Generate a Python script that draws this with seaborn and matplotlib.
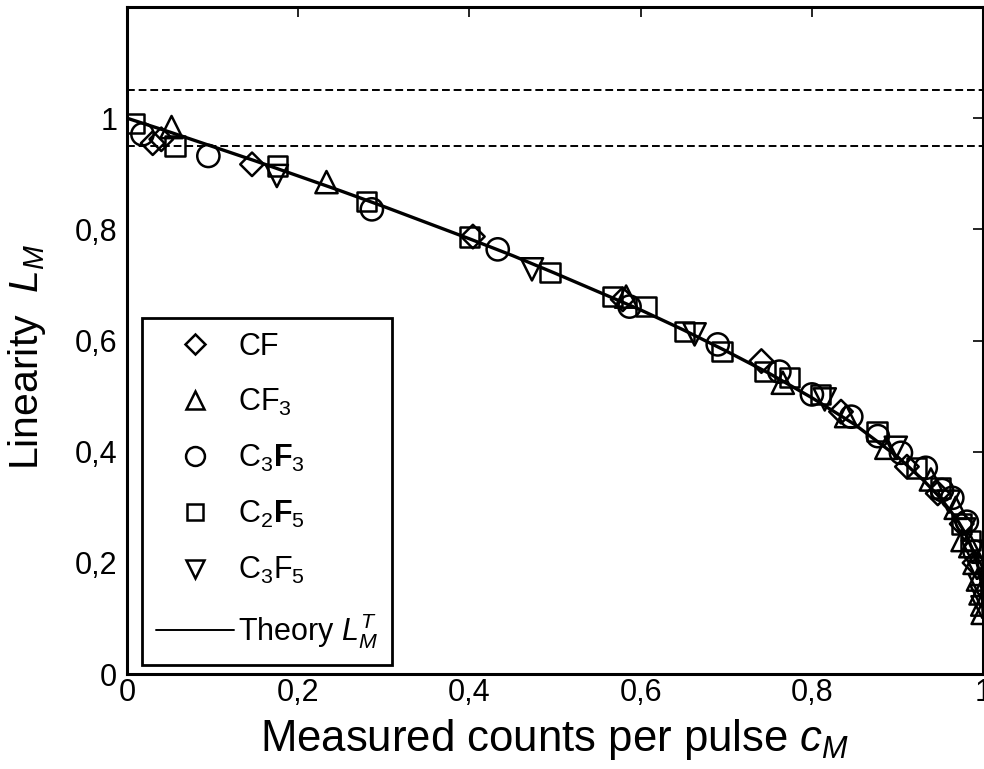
import numpy as np
import pandas as pd
import matplotlib
matplotlib.use("Agg")
import matplotlib.pyplot as plt
from matplotlib.lines import Line2D
import seaborn as sns

# ---------------- data ----------------
cf_c = [0.030, 0.040, 0.146, 0.404, 0.579, 0.741, 0.834, 0.911, 0.947, 0.975, 0.990]
cf_L = [0.955, 0.962, 0.917, 0.787, 0.674, 0.563, 0.472, 0.373, 0.325, 0.270, 0.200]

cf3_c = [0.052, 0.233, 0.583, 0.766, 0.840, 0.887, 0.939, 0.968, 0.976, 0.985, 0.990, 0.994, 0.997, 0.999, 0.9995]
cf3_L = [0.984, 0.885, 0.679, 0.524, 0.464, 0.407, 0.350, 0.299, 0.241, 0.230, 0.200, 0.170, 0.145, 0.125, 0.110]

c3f3_c = [0.018, 0.095, 0.286, 0.433, 0.587, 0.690, 0.762, 0.800, 0.846, 0.877, 0.904, 0.933, 0.952, 0.964, 0.981, 0.990]
c3f3_L = [0.971, 0.932, 0.836, 0.764, 0.661, 0.593, 0.544, 0.503, 0.463, 0.428, 0.398, 0.371, 0.331, 0.317, 0.274, 0.220]

c2f5_c = [0.009, 0.056, 0.176, 0.280, 0.400, 0.494, 0.567, 0.606, 0.651, 0.695, 0.745, 0.774, 0.810, 0.876, 0.922, 0.950, 0.975, 0.985]
c2f5_L = [0.990, 0.950, 0.914, 0.850, 0.786, 0.722, 0.679, 0.661, 0.616, 0.580, 0.544, 0.533, 0.503, 0.436, 0.371, 0.335, 0.270, 0.240]

c3f5_c = [0.175, 0.473, 0.663, 0.815, 0.898, 0.960, 0.978, 0.988, 0.993, 0.996, 0.998, 0.9993]
c3f5_L = [0.896, 0.728, 0.611, 0.494, 0.407, 0.310, 0.260, 0.220, 0.190, 0.160, 0.140, 0.120]

theory_c = [0.0, 0.05, 0.10, 0.15, 0.20, 0.25, 0.30, 0.35, 0.40, 0.45, 0.50, 0.55, 0.60, 0.65,
            0.70, 0.75, 0.80, 0.85, 0.90, 0.93, 0.95, 0.97, 0.98, 0.99, 0.995, 0.998, 0.999, 0.9999]
theory_L = [1.000, 0.975, 0.949, 0.923, 0.896, 0.869, 0.841, 0.812, 0.783, 0.753, 0.721, 0.688, 0.655, 0.619,
            0.581, 0.541, 0.497, 0.449, 0.391, 0.349, 0.317, 0.277, 0.251, 0.215, 0.188, 0.161, 0.145, 0.109]

tol_lines = [1.05, 0.95]
tick_vals = [0, 0.2, 0.4, 0.6, 0.8, 1.0]
tick_labels = ["0", "0,2", "0,4", "0,6", "0,8", "1"]

series_labels = ["CF", r"CF$_3$", r"C$_3\mathbf{F}_3$", r"C$_2\mathbf{F}_5$", r"C$_3$F$_5$"]
series_data = [(cf_c, cf_L), (cf3_c, cf3_L), (c3f3_c, c3f3_L), (c2f5_c, c2f5_L), (c3f5_c, c3f5_L)]
series_markers = ["D", "^", "o", "s", "v"]
series_sizes = [12, 16, 16, 14, 16]

# ---------------- style ----------------
sns.set_theme(style="white")
plt.rcParams["font.family"] = ["Liberation Sans", "DejaVu Sans"]
plt.rcParams["mathtext.fontset"] = "custom"
plt.rcParams["mathtext.rm"] = "Liberation Sans"
plt.rcParams["mathtext.it"] = "Liberation Sans:italic"
plt.rcParams["mathtext.bf"] = "Liberation Sans:bold"
plt.rcParams["text.color"] = "black"
plt.rcParams["axes.labelcolor"] = "black"
plt.rcParams["xtick.color"] = "black"
plt.rcParams["ytick.color"] = "black"

fig = plt.figure(figsize=(9.84, 7.69), dpi=100)
ax = fig.add_axes([0.1291, 0.1235, 0.870, 0.8674])

# theory curve
tdf = pd.DataFrame({"c": theory_c, "L": theory_L})
sns.lineplot(data=tdf, x="c", y="L", ax=ax, color="black", linewidth=2.4,
             sort=False, estimator=None, legend=False)

# data series
for (cx, cy), mk, ms in zip(series_data, series_markers, series_sizes):
    df = pd.DataFrame({"c": cx, "L": cy})
    sns.scatterplot(data=df, x="c", y="L", ax=ax, marker=mk, s=ms ** 2,
                    facecolors="none", edgecolor="black", linewidth=1.8, legend=False, zorder=3)
    ax.collections[-1].set_facecolor("none")
    ax.collections[-1].set_edgecolor("black")

# tolerance lines
for yv in tol_lines:
    ax.axhline(yv, color="black", linewidth=1.4, linestyle=(0, (4, 2)))

ax.set_xlim(0, 1)
ax.set_ylim(0, 1.2)
ax.set_xticks(tick_vals)
ax.set_xticklabels(tick_labels)
ax.set_yticks(tick_vals)
ax.set_yticklabels(tick_labels)
ax.tick_params(direction="in", top=True, right=True, length=7, width=1.2,
               labelsize=22, labelcolor="black", color="black")
ax.tick_params(axis="x", pad=3)
ax.tick_params(axis="y", pad=7)
for sp in ax.spines.values():
    sp.set_linewidth(2.2)
    sp.set_color("black")

ax.set_xlabel(r"Measured counts per pulse $c_M$", fontsize=31.5, labelpad=6)
ax.set_ylabel(r"Linearity  $L_M$", fontsize=29.5)
ax.yaxis.set_label_coords(-0.092, 0.475)

# legend
handles = [Line2D([], [], linestyle="none", marker=mk, markersize=ms * 0.85,
                  markerfacecolor="none", markeredgecolor="black", markeredgewidth=1.8)
           for mk, ms in zip(series_markers, series_sizes)]
handles.append(Line2D([], [], color="black", linewidth=1.4))
labels = series_labels + [r"Theory $L_M^T$"]
leg = ax.legend(handles, labels, loc="lower left", bbox_to_anchor=(0.0175, 0.0135),
                fontsize=22, frameon=True, fancybox=False, framealpha=1,
                edgecolor="black", handlelength=2.55, handletextpad=0.15,
                labelspacing=0.82, borderpad=0.45, borderaxespad=0)
leg.get_frame().set_linewidth(2.0)
for t in leg.get_texts():
    t.set_color("black")

fig.savefig("out.png", dpi=100)
